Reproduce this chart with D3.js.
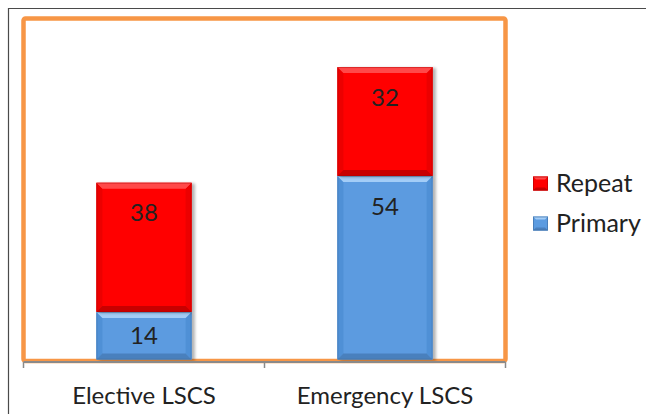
<!DOCTYPE html>
<html>
<head>
<meta charset="utf-8">
<script src="https://cdn.jsdelivr.net/npm/d3@7"></script>
<style>
  html, body { margin: 0; padding: 0; background: #fff; }
  svg { display: block; }
  text { font-family: Lato, "Open Sans", sans-serif; fill: #222; }
</style>
</head>
<body>
<svg id="chart" width="646" height="414"></svg>
<script>
// Caesarean section types, stacked by primary / repeat cases
const categories = ["Elective LSCS", "Emergency LSCS"];
const seriesNames = ["Primary", "Repeat"];
const primary = [14, 54];
const repeat = [38, 32];
const legendOrder = ["Repeat", "Primary"];
const yDomain = [0, 100];

const colors = {
  Primary: { face: "#5b9be0", top: "#a3cdf7", side: "#5090d6", bottom: "#4a80bd", edge: "#3c6aa0" },
  Repeat:  { face: "#ff0000", top: "#ff4a4a", side: "#ec0000", bottom: "#c80000", edge: "#b00000" }
};

const svg = d3.select("#chart");

// outer frame
svg.append("path")
  .attr("d", "M8.5,414 V8.5 H646")
  .attr("fill", "none").attr("stroke", "#4a4a4a").attr("stroke-width", 1.2);

const plot = { left: 23.5, right: 505.5, top: 18.5, bottom: 361 };

// orange plot-area border
svg.append("rect")
  .attr("x", plot.left).attr("y", plot.top)
  .attr("width", plot.right - plot.left).attr("height", plot.bottom - plot.top)
  .attr("rx", 2)
  .attr("fill", "#fff").attr("stroke", "#f79646").attr("stroke-width", 4.5);

const x = d3.scaleBand().domain(categories).range([plot.left, plot.right]).padding(0);
const y = d3.scaleLinear().domain(yDomain).range([359.5, 19.5]);
const barFrac = 0.395;

// stacked layout
const table = categories.map((c, i) => ({ category: c, Primary: primary[i], Repeat: repeat[i] }));
const stacked = d3.stack().keys(seriesNames)(table);

const defs = svg.append("defs");
const f = defs.append("filter").attr("id", "shadow").attr("x", "-20%").attr("y", "-20%").attr("width", "140%").attr("height", "140%");
f.append("feGaussianBlur").attr("in", "SourceAlpha").attr("stdDeviation", 1.6).attr("result", "b");
f.append("feOffset").attr("in", "b").attr("dx", 2.5).attr("dy", 1).attr("result", "o");
f.append("feComponentTransfer").attr("in", "o").attr("result", "s")
  .append("feFuncA").attr("type", "linear").attr("slope", 0.3);
const m = f.append("feMerge");
m.append("feMergeNode").attr("in", "s");
m.append("feMergeNode").attr("in", "SourceGraphic");

// bevelled bar segment
function bevelRect(g, x0, y0, x1, y1, c) {
  const b = Math.min(6, (y1 - y0) / 3);
  const grp = g.append("g").attr("filter", "url(#shadow)");
  grp.append("rect").attr("x", x0).attr("y", y0).attr("width", x1 - x0).attr("height", y1 - y0).attr("fill", c.face);
  const poly = (pts, fill) => grp.append("polygon").attr("points", pts.map(p => p.join(",")).join(" ")).attr("fill", fill);
  poly([[x0, y0], [x0 + b, y0 + b], [x0 + b, y1 - b], [x0, y1]], c.side);
  poly([[x1, y0], [x1 - b, y0 + b], [x1 - b, y1 - b], [x1, y1]], c.side);
  poly([[x0, y1], [x0 + b, y1 - b], [x1 - b, y1 - b], [x1, y1]], c.bottom);
  poly([[x0, y0], [x1, y0], [x1 - b, y0 + b], [x0 + b, y0 + b]], c.top);
  grp.append("rect").attr("x", x0 + 0.5).attr("y", y0 + 0.5).attr("width", x1 - x0 - 1).attr("height", y1 - y0 - 1)
    .attr("fill", "none").attr("stroke", c.edge).attr("stroke-opacity", 0.45).attr("stroke-width", 1);
}

const barsG = svg.append("g");
const labelsG = svg.append("g");
stacked.forEach(layer => {
  const c = colors[layer.key];
  layer.forEach((d, i) => {
    const cat = categories[i];
    const cx = x(cat) + x.bandwidth() / 2;
    const w = x.bandwidth() * barFrac;
    const yTop = y(d[1]), yBot = y(d[0]);
    bevelRect(barsG, cx - w / 2, yTop, cx + w / 2, yBot, c);
    const h = yBot - yTop;
    const ly = yTop + Math.min(h / 2, 30);
    labelsG.append("text")
      .attr("x", cx).attr("y", ly).attr("dy", "0.36em")
      .attr("text-anchor", "middle").attr("font-size", 24)
      .text(d.data[layer.key]);
  });
});

// category axis
const axisG = svg.append("g").attr("transform", "translate(0,362)");
axisG.call(d3.axisBottom(x).tickSize(0).tickFormat(""));
axisG.select(".domain").attr("stroke", "#8a8a8a").attr("stroke-width", 2).attr("d", `M${plot.left},0H${plot.right}`);
const tickPos = [plot.left, ...categories.slice(1).map(c => x(c)), plot.right];
axisG.selectAll(".tk").data(tickPos).join("line")
  .attr("x1", d => d).attr("x2", d => d).attr("y1", 0).attr("y2", 6)
  .attr("stroke", "#8a8a8a").attr("stroke-width", 1.5);
axisG.selectAll(".cl").data(categories).join("text")
  .attr("x", d => x(d) + x.bandwidth() / 2).attr("y", 42)
  .attr("text-anchor", "middle").attr("font-size", 24)
  .text(d => d);

// legend
const legend = svg.append("g");
legendOrder.forEach((k, i) => {
  const base = 191.5 + i * 40;
  const c = colors[k];
  const sx = 533, sy = base - 15, s = 15;
  const g = legend.append("g");
  g.append("rect").attr("x", sx).attr("y", sy).attr("width", s).attr("height", s - 1).attr("fill", c.face);
  const b = 3;
  g.append("polygon").attr("points", `${sx},${sy} ${sx + s},${sy} ${sx + s - b},${sy + b} ${sx + b},${sy + b}`).attr("fill", c.top);
  g.append("polygon").attr("points", `${sx},${sy + s - 1} ${sx + b},${sy + s - 1 - b} ${sx + s - b},${sy + s - 1 - b} ${sx + s},${sy + s - 1}`).attr("fill", c.bottom);
  g.append("rect").attr("x", sx + 0.5).attr("y", sy + 0.5).attr("width", s - 1).attr("height", s - 2).attr("fill", "none").attr("stroke", c.edge).attr("stroke-opacity", 0.6);
  legend.append("text").attr("x", 556).attr("y", base).attr("font-size", 25).text(k);
});
</script>
</body>
</html>
